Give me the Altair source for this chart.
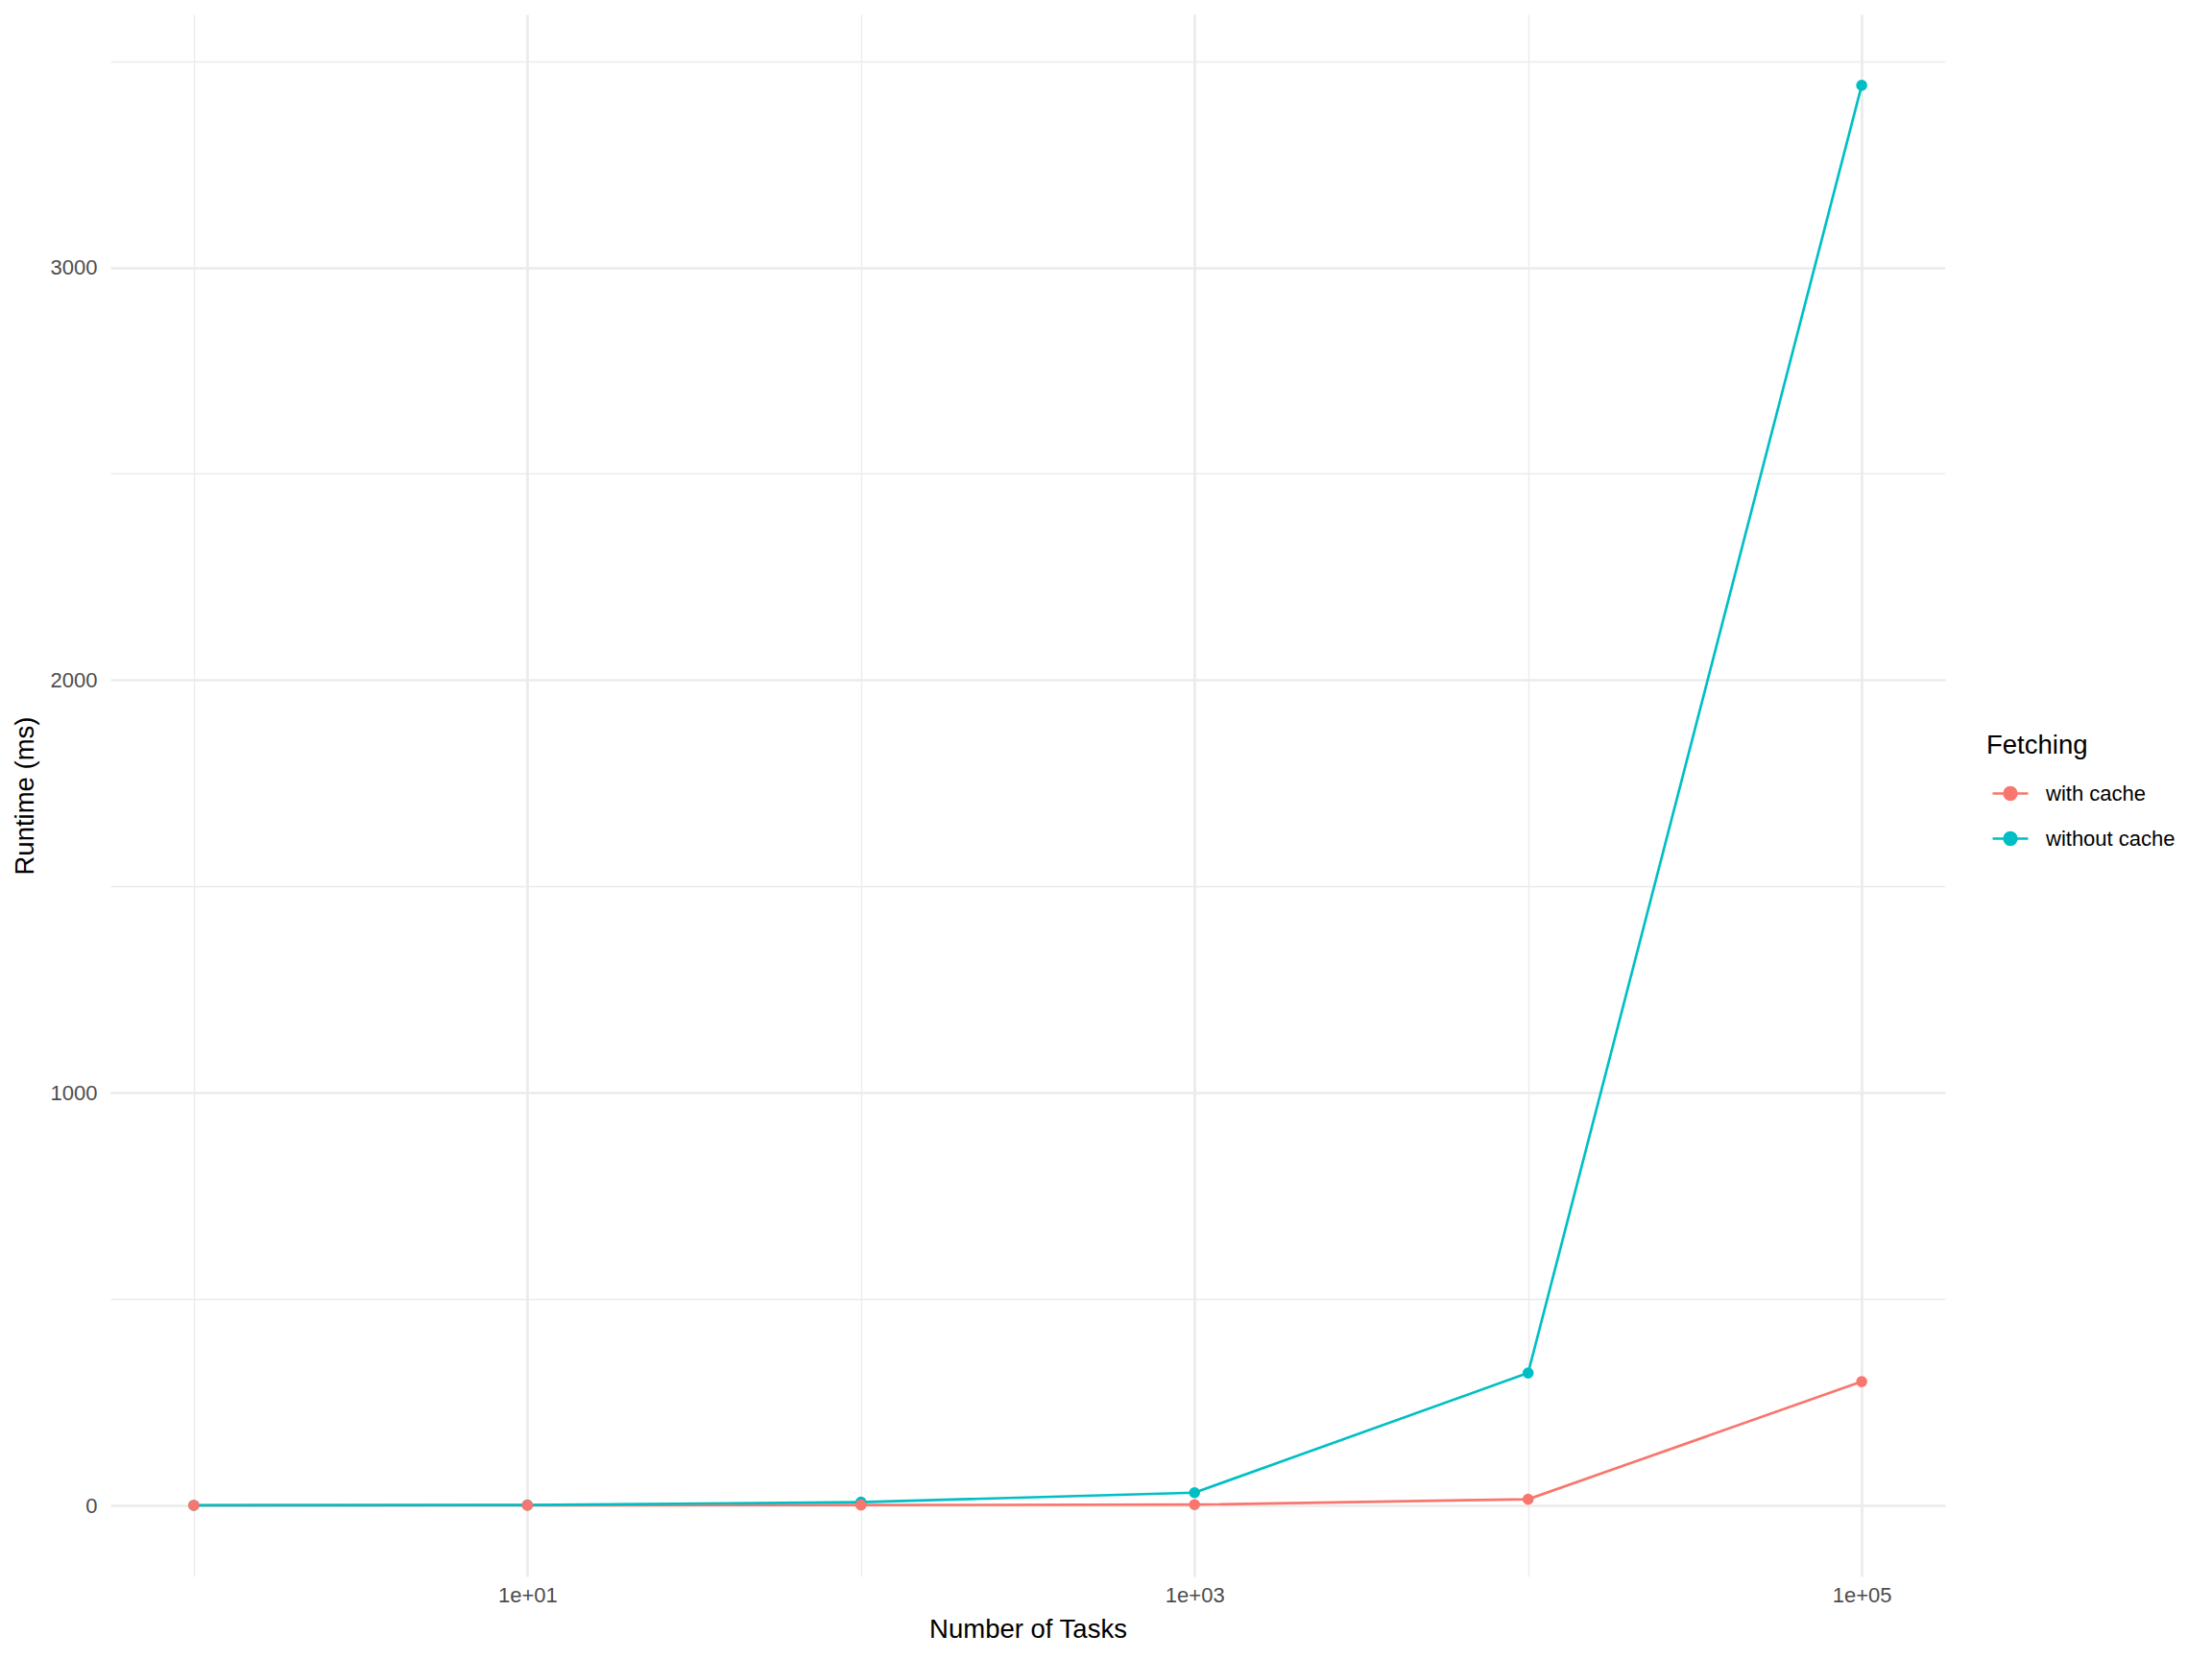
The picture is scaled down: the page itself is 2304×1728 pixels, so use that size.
import altair as alt
import pandas as pd

tasks = [1, 10, 100, 1000, 10000, 100000]
with_cache = [0.2, 0.5, 1, 2, 15, 300]
without_cache = [0.3, 1, 8, 31, 321, 3441]
series_names = ["with cache", "without cache"]
colors = ["#F8766D", "#00BFC4"]

rows = []
for t, v in zip(tasks, with_cache):
    rows.append({"tasks": t, "runtime": v, "Fetching": series_names[0]})
for t, v in zip(tasks, without_cache):
    rows.append({"tasks": t, "runtime": v, "Fetching": series_names[1]})
df = pd.DataFrame(rows)

FONT = "Liberation Sans"
GRID = "#EBEBEB"
MAJOR = 2.67
MINOR = 1.33

x_enc = alt.X(
    "tasks:Q",
    scale=alt.Scale(type="log", domain=[10 ** -0.25, 10 ** 5.25], nice=False),
    axis=alt.Axis(
        title="Number of Tasks",
        values=tasks,
        labelExpr="(round(log(datum.value)/LN10) % 2 == 1) ? ('1e+0' + round(log(datum.value)/LN10)) : ''",
        grid=True,
        gridColor=GRID,
        gridWidth={"condition": {"test": "round(log(datum.value)/LN10) % 2 == 1", "value": MAJOR}, "value": MINOR},
        ticks=False,
        tickSize=0,
        domain=False,
        labelFont=FONT,
        labelFontSize=22,
        labelColor="#4D4D4D",
        labelPadding=9,
        titleFont=FONT,
        titleFontSize=27.5,
        titleFontWeight="normal",
        titleColor="#000000",
        titlePadding=11,
    ),
)

y_enc = alt.Y(
    "runtime:Q",
    scale=alt.Scale(domain=[-172, 3613], nice=False, zero=False),
    axis=alt.Axis(
        title="Runtime (ms)",
        values=[0, 500, 1000, 1500, 2000, 2500, 3000, 3500],
        format="d",
        labelExpr="datum.value % 1000 == 0 ? datum.label : ''",
        grid=True,
        gridColor=GRID,
        gridWidth={"condition": {"test": "datum.value % 1000 == 0", "value": MAJOR}, "value": MINOR},
        ticks=False,
        tickSize=0,
        domain=False,
        labelFont=FONT,
        labelFontSize=22,
        labelColor="#4D4D4D",
        labelPadding=14,
        titleFont=FONT,
        titleFontSize=27.5,
        titleFontWeight="normal",
        titleColor="#000000",
        titlePadding=12,
    ),
)

color_enc = alt.Color(
    "Fetching:N",
    scale=alt.Scale(domain=series_names, range=colors),
    legend=alt.Legend(
        title="Fetching",
        orient="none",
        legendX=1954,
        legendY=748,
        titleFont=FONT,
        titleFontSize=27.5,
        titleFontWeight="normal",
        titleColor="#000000",
        titlePadding=16,
        labelFont=FONT,
        labelFontSize=22,
        labelColor="#000000",
        labelOffset=17,
        symbolType="M-1,0L1,0M-0.345,0A0.345,0.345 0 1,0 0.345,0A0.345,0.345 0 1,0 -0.345,0Z",
        symbolSize=1369,
        symbolOffset=5,
        symbolStrokeWidth=2.67,
        rowPadding=15,
    ),
)

base = alt.Chart(df).encode(x=x_enc, y=y_enc, color=color_enc)

lines = base.mark_line(strokeWidth=2.67)
points = base.mark_circle(size=135, opacity=1).encode(
    order=alt.Order("Fetching:N", sort="descending")
)

chart = (
    alt.layer(lines, points)
    .properties(
        width=1911,
        height=1627,
        autosize=alt.AutoSizeParams(type="none"),
        padding={"left": 107, "top": 7, "right": 270, "bottom": 78},
        view=alt.ViewBackground(strokeOpacity=0, strokeWidth=0),
    )
    .configure_view(strokeWidth=0, strokeOpacity=0, stroke="transparent")
    .configure(background="white")
)

chart.save("out.html", embed_options={"renderer": "svg", "actions": False})
